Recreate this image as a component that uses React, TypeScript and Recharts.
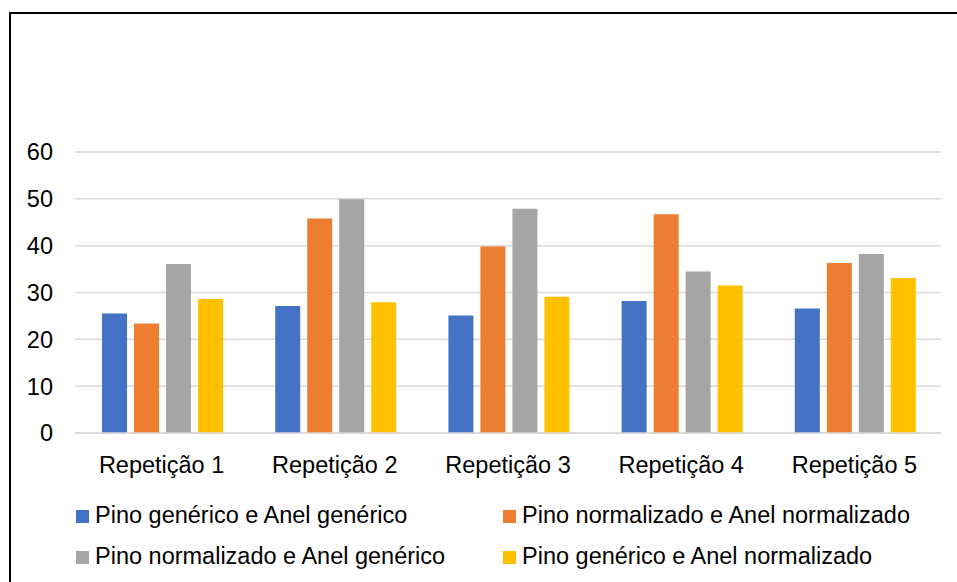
import { BarChart, Bar, XAxis, YAxis, CartesianGrid } from 'recharts';

const categories = ['Repetição 1', 'Repetição 2', 'Repetição 3', 'Repetição 4', 'Repetição 5'];

const pinoGenAnelGen = [25.5, 27.1, 25.1, 28.2, 26.6];
const pinoNormAnelNorm = [23.4, 45.8, 39.8, 46.7, 36.3];
const pinoNormAnelGen = [36.1, 49.9, 47.9, 34.5, 38.2];
const pinoGenAnelNorm = [28.6, 27.9, 29.1, 31.5, 33.1];

const yTicks = [0, 10, 20, 30, 40, 50, 60];

const SERIES = [
  { key: 'gg', name: 'Pino genérico e Anel genérico', values: pinoGenAnelGen, color: '#4472C4' },
  { key: 'nn', name: 'Pino normalizado e Anel normalizado', values: pinoNormAnelNorm, color: '#ED7D31' },
  { key: 'ng', name: 'Pino normalizado e Anel genérico', values: pinoNormAnelGen, color: '#A5A5A5' },
  { key: 'gn', name: 'Pino genérico e Anel normalizado', values: pinoGenAnelNorm, color: '#FFC000' },
];

const chartData = categories.map((cat, i) => {
  const row: Record<string, string | number> = { cat };
  SERIES.forEach((s) => { row[s.key] = s.values[i]; });
  return row;
});

const FONT = '"Liberation Sans", Arial, sans-serif';
const tickStyle = { fontSize: 23.5, fill: '#000', fontFamily: FONT };

// legend laid out as two columns, two rows
const legendPos = [
  { left: 76, top: 501 },
  { left: 503, top: 501 },
  { left: 76, top: 542 },
  { left: 503, top: 542 },
];

export default function App() {
  return (
    <div style={{ position: 'fixed', left: 0, top: 0, width: 957, height: 582, background: '#fff', overflow: 'hidden', fontFamily: FONT }}>
      <style>{'html, body { margin: 0; overflow: hidden; background: #fff; }'}</style>
      {/* frame: only top and left edges are visible */}
      <div style={{ position: 'absolute', left: 9, top: 12, width: 2, height: 570, background: '#000' }} />
      <div style={{ position: 'absolute', left: 9, top: 12, width: 948, height: 2, background: '#000' }} />
      <BarChart
        width={957}
        height={582}
        data={chartData}
        margin={{ top: 152, right: 16, left: 0, bottom: 119 }}
        barCategoryGap="15.6%"
        barGap={7}
      >
        <CartesianGrid vertical={false} stroke="#D9D9D9" strokeWidth={1.5} />
        <XAxis
          dataKey="cat"
          height={30}
          axisLine={{ stroke: '#D9D9D9', strokeWidth: 1.5 }}
          tickLine={false}
          tickMargin={17}
          tick={tickStyle}
          interval={0}
        />
        <YAxis
          width={75}
          domain={[0, 60]}
          ticks={yTicks}
          axisLine={false}
          tickLine={false}
          tickMargin={16}
          tick={tickStyle}
        />
        {SERIES.map((s) => (
          <Bar key={s.key} dataKey={s.key} name={s.name} fill={s.color} isAnimationActive={false} />
        ))}
      </BarChart>
      {SERIES.map((s, i) => (
        <div
          key={s.key}
          style={{ position: 'absolute', left: legendPos[i].left, top: legendPos[i].top, display: 'flex', alignItems: 'center', fontSize: 23.5, color: '#000', whiteSpace: 'nowrap', lineHeight: '28px' }}
        >
          <span style={{ display: 'inline-block', width: 13, height: 13, background: s.color, marginRight: 6, marginTop: 3 }} />
          {s.name}
        </div>
      ))}
    </div>
  );
}
